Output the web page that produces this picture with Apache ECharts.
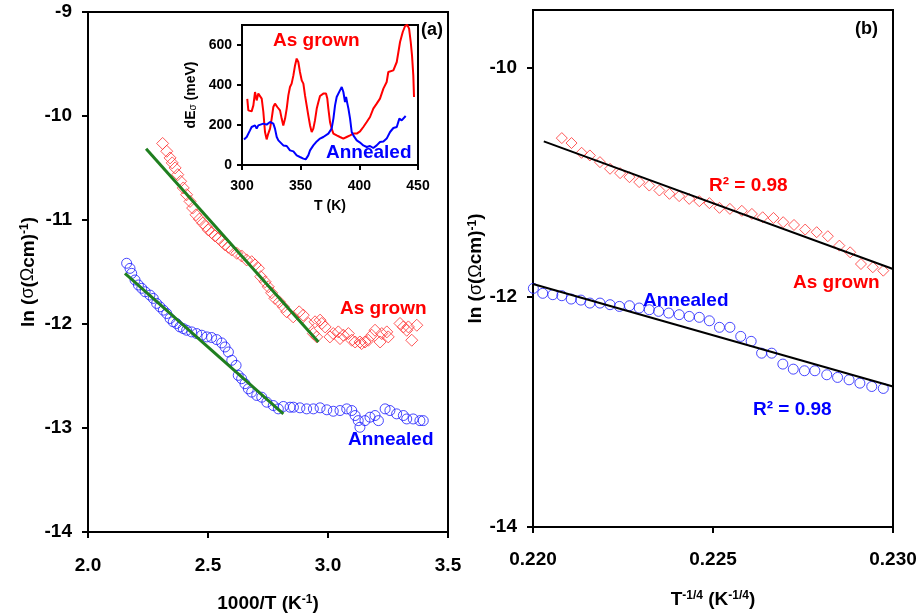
<!DOCTYPE html>
<html>
<head>
<meta charset="utf-8">
<script src="https://cdn.jsdelivr.net/npm/echarts@6/dist/echarts.min.js"></script>
<style>
html, body { margin: 0; padding: 0; background: #fff; }
#chart { width: 919px; height: 615px; }
</style>
</head>
<body>
<div id="chart"></div>
<script>
// panel (a): ln(sigma) vs 1000/T
const grownA = [
    [2.311, -10.264], [2.328, -10.339], [2.342, -10.403], [2.351, -10.451], [2.363, -10.499],
    [2.374, -10.564], [2.386, -10.628], [2.397, -10.692], [2.411, -10.757], [2.425, -10.821],
    [2.436, -10.885], [2.450, -10.950], [2.464, -10.991], [2.478, -11.030], [2.492, -11.062],
    [2.501, -11.095], [2.515, -11.120], [2.529, -11.153], [2.543, -11.175], [2.557, -11.207],
    [2.571, -11.239], [2.585, -11.262], [2.599, -11.288], [2.620, -11.320], [2.640, -11.346],
    [2.661, -11.384], [2.682, -11.401], [2.696, -11.432], [2.710, -11.464], [2.720, -11.545],
    [2.738, -11.594], [2.751, -11.642], [2.765, -11.700], [2.779, -11.754], [2.797, -11.787],
    [2.814, -11.835], [2.828, -11.883], [2.855, -11.931], [2.880, -11.883], [2.897, -11.915],
    [2.918, -11.995], [2.939, -12.092], [2.953, -12.124],
    [2.946, -11.979], [2.967, -11.963], [2.974, -11.995], [2.988, -12.028], [3.008, -12.124],
    [3.022, -12.092], [3.043, -12.076], [3.050, -12.140], [3.064, -12.108], [3.085, -12.092],
    [3.099, -12.156], [3.113, -12.173], [3.133, -12.173], [3.140, -12.188], [3.154, -12.173],
    [3.168, -12.156], [3.182, -12.108], [3.196, -12.060], [3.217, -12.173], [3.224, -12.092],
    [3.245, -12.076], [3.251, -12.124], [3.300, -11.995], [3.314, -12.028], [3.328, -12.060],
    [3.335, -12.028], [3.349, -12.156], [3.370, -12.012]
]
const annealA = [
    [2.161, -11.416], [2.175, -11.465], [2.182, -11.513], [2.196, -11.577], [2.210, -11.625],
    [2.224, -11.657], [2.238, -11.690], [2.258, -11.722], [2.272, -11.754], [2.286, -11.802],
    [2.300, -11.835], [2.314, -11.867], [2.328, -11.899], [2.342, -11.947], [2.355, -11.979],
    [2.369, -11.995], [2.383, -12.028], [2.397, -12.044], [2.411, -12.060], [2.432, -12.076],
    [2.453, -12.092], [2.474, -12.108], [2.495, -12.124], [2.515, -12.130], [2.536, -12.150],
    [2.557, -12.182], [2.571, -12.221], [2.585, -12.269], [2.599, -12.349], [2.617, -12.398],
    [2.626, -12.494], [2.640, -12.526], [2.654, -12.574], [2.668, -12.623], [2.682, -12.655],
    [2.703, -12.687], [2.724, -12.704], [2.745, -12.752], [2.772, -12.784], [2.793, -12.816],
    [2.814, -12.793], [2.842, -12.800],
    [2.856, -12.800], [2.883, -12.806], [2.911, -12.816], [2.939, -12.816], [2.967, -12.806],
    [2.995, -12.825], [3.022, -12.839], [3.050, -12.832], [3.078, -12.816], [3.099, -12.832],
    [3.113, -12.880], [3.126, -12.929], [3.133, -12.993], [3.154, -12.929], [3.175, -12.896],
    [3.196, -12.880], [3.210, -12.929], [3.238, -12.816], [3.258, -12.832], [3.286, -12.864],
    [3.314, -12.880], [3.328, -12.913], [3.355, -12.913], [3.383, -12.929], [3.397, -12.929]
]
const fitGrownA = [[2.242, -10.316], [2.960, -12.173]]
const fitAnnealA = [[2.154, -11.513], [2.814, -12.864]]

// inset: dE_sigma (meV) vs T (K)
const insetGrown = [
    [304.5, 331], [305.4, 273], [308.2, 268], [309.7, 298], [311.1, 365], [312.5, 323],
    [313.9, 357], [315.3, 348], [316.8, 332], [318.2, 265], [319.6, 165], [321.0, 128],
    [322.4, 157], [323.9, 182], [325.3, 232], [326.7, 290], [328.1, 307], [330.1, 290],
    [332.4, 273], [333.8, 232], [335.2, 198], [336.7, 232], [338.1, 282], [339.5, 348],
    [340.9, 390], [342.3, 407], [343.8, 448], [345.2, 498], [346.6, 532], [348.0, 515],
    [349.4, 465], [350.9, 423], [352.3, 407], [353.7, 348], [355.1, 298], [356.5, 248],
    [358.0, 198], [359.4, 165], [360.8, 182], [362.2, 223], [363.7, 282], [365.1, 315],
    [366.5, 345], [369.3, 357], [371.6, 357], [372.7, 332], [373.6, 282], [375.0, 215],
    [376.4, 182], [377.9, 157], [380.7, 148], [383.5, 140], [386.4, 132], [389.2, 140],
    [392.1, 148], [394.9, 157], [397.8, 157], [400.6, 168], [403.4, 190], [406.3, 215],
    [409.1, 240], [411.9, 282], [414.8, 307], [417.6, 332], [420.5, 382], [423.3, 415],
    [424.7, 465], [429.0, 473], [431.9, 515], [433.3, 565], [434.7, 615], [437.0, 665],
    [439.0, 695], [440.9, 700], [442.4, 682], [443.8, 615], [444.9, 548], [446.0, 448],
    [446.6, 340]
]
const insetAnneal = [
    [301.7, 128], [304.0, 140], [306.8, 173], [308.2, 190], [309.7, 185], [311.1, 198],
    [312.5, 182], [313.9, 198], [315.3, 190], [318.2, 207], [321.0, 202], [323.9, 215],
    [326.7, 207], [328.1, 182], [329.6, 140], [331.0, 123], [332.4, 118], [335.2, 98],
    [338.1, 95], [340.9, 73], [343.8, 68], [346.6, 48], [349.4, 40], [352.3, 32],
    [354.3, 28], [356.5, 48], [358.0, 73], [360.8, 98], [363.7, 118], [366.5, 132],
    [369.3, 140], [370.8, 135], [373.6, 157], [375.0, 148], [376.4, 182], [377.9, 232],
    [379.3, 298], [380.7, 340], [383.5, 373], [385.0, 390], [386.4, 365], [387.8, 315],
    [388.7, 340], [389.8, 307], [390.7, 282], [392.1, 232], [393.5, 165], [394.9, 148],
    [397.8, 123], [400.6, 112], [403.4, 98], [406.3, 90], [409.1, 95], [411.9, 85],
    [413.4, 82], [414.8, 98], [417.6, 115], [420.5, 118], [423.3, 132], [426.2, 165],
    [429.0, 185], [431.9, 190], [434.1, 232], [436.1, 223], [437.5, 232], [439.5, 245]
]

// panel (b): ln(sigma) vs T^-1/4
const grownB = [
    [0.22080, -10.615], [0.22107, -10.658], [0.22135, -10.743], [0.22158, -10.766],
    [0.22186, -10.824], [0.22214, -10.882], [0.22242, -10.920], [0.22268, -10.955],
    [0.22295, -10.998], [0.22323, -11.028], [0.22351, -11.071], [0.22379, -11.100],
    [0.22406, -11.120], [0.22434, -11.144], [0.22462, -11.164], [0.22490, -11.181],
    [0.22518, -11.222], [0.22547, -11.231], [0.22580, -11.248], [0.22608, -11.275],
    [0.22638, -11.304], [0.22668, -11.310], [0.22695, -11.347], [0.22725, -11.371],
    [0.22756, -11.411], [0.22788, -11.434], [0.22819, -11.469], [0.22851, -11.551],
    [0.22881, -11.609], [0.22911, -11.711], [0.22944, -11.739], [0.22973, -11.769]
]
const annealB = [
    [0.22001, -11.923], [0.22027, -11.966], [0.22055, -11.978], [0.22080, -11.987],
    [0.22106, -12.016], [0.22133, -12.025], [0.22158, -12.051], [0.22186, -12.051],
    [0.22214, -12.065], [0.22240, -12.080], [0.22268, -12.074], [0.22295, -12.094],
    [0.22323, -12.109], [0.22349, -12.123], [0.22377, -12.138], [0.22406, -12.152],
    [0.22434, -12.167], [0.22462, -12.175], [0.22490, -12.205], [0.22518, -12.262],
    [0.22547, -12.262], [0.22577, -12.341], [0.22606, -12.384], [0.22635, -12.487],
    [0.22663, -12.487], [0.22694, -12.582], [0.22723, -12.626], [0.22754, -12.640],
    [0.22783, -12.640], [0.22816, -12.675], [0.22846, -12.698], [0.22878, -12.719],
    [0.22908, -12.748], [0.22941, -12.777], [0.22973, -12.794]
]
const fitGrownB = [[0.2203, -10.644], [0.2300, -11.754]]
const fitAnnealB = [[0.2200, -11.885], [0.2300, -12.777]]

const RED = '#ff0000'
const BLUE = '#0000ff'
const GREEN = '#1f7f1f'
const FONT = "'Liberation Sans', Arial, sans-serif"

const myChart = echarts.init(document.getElementById('chart'))

const rich = {
    b: { fontFamily: FONT, fontWeight: 'bold', fontSize: 19, color: '#000' },
    g: { fontFamily: FONT, fontWeight: 'normal', fontSize: 18, color: '#000' },
    sup: { fontFamily: FONT, fontWeight: 'bold', fontSize: 12, color: '#000', verticalAlign: 'top', lineHeight: 12 },
    sb: { fontFamily: FONT, fontWeight: 'bold', fontSize: 14, color: '#000' },
    sub: { fontFamily: FONT, fontWeight: 'normal', fontSize: 10, color: '#000', verticalAlign: 'bottom', lineHeight: 10 }
}

const axisCommon = (labelSize, tickLen) => ({
    type: 'value',
    splitLine: { show: false },
    axisLine: { show: true, onZero: false, lineStyle: { color: '#000', width: 2 } },
    axisTick: { show: true, inside: false, length: tickLen, lineStyle: { color: '#000', width: 2 } },
    axisLabel: { color: '#000', fontFamily: FONT, fontWeight: 'bold', fontSize: labelSize },
    nameLocation: 'middle',
    nameTextStyle: { rich: rich }
})

const scatter = (x, y, data, symbol, size, color) => ({
    type: 'scatter',
    xAxisIndex: x,
    yAxisIndex: y,
    data: data,
    symbol: symbol,
    symbolSize: size,
    silent: true,
    itemStyle: { color: 'rgba(0,0,0,0)', borderColor: color, borderWidth: 1 },
    z: 2
})

const line = (x, y, data, color, width, z) => ({
    type: 'line',
    xAxisIndex: x,
    yAxisIndex: y,
    data: data,
    showSymbol: false,
    symbol: 'none',
    silent: true,
    lineStyle: { color: color, width: width },
    z: z
})

const txt = (left, top, text, color, size) => ({
    type: 'text',
    left: left,
    top: top,
    z: 100,
    style: { text: text, fill: color, font: 'bold ' + size + 'px ' + FONT }
})

myChart.setOption({
    animation: false,
    backgroundColor: '#fff',
    grid: [
        { left: 88, top: 12, width: 360, height: 520, show: true, borderColor: '#000', borderWidth: 2, backgroundColor: 'transparent', outerBoundsMode: 'none' },
        { left: 242, top: 25, width: 176, height: 140, show: true, borderColor: '#000', borderWidth: 2, backgroundColor: '#fff', outerBoundsMode: 'none', z: 5 },
        { left: 533, top: 10, width: 360, height: 517, show: true, borderColor: '#000', borderWidth: 2, backgroundColor: 'transparent', outerBoundsMode: 'none' }
    ],
    xAxis: [
        Object.assign(axisCommon(19, 6), {
            gridIndex: 0, min: 2, max: 3.5, interval: 0.5,
            name: '{b|1000/T (K}{sup|-1}{b|)}', nameGap: 62,
            axisLabel: Object.assign(axisCommon(19, 6).axisLabel, { margin: 24, formatter: v => v.toFixed(1) })
        }),
        Object.assign(axisCommon(14, 5), {
            gridIndex: 1, min: 300, max: 450, interval: 50, z: 6,
            name: '{sb|T (K)}', nameGap: 34,
            axisLabel: Object.assign(axisCommon(14, 5).axisLabel, { margin: 14 })
        }),
        Object.assign(axisCommon(19, 6), {
            gridIndex: 2, min: 0.220, max: 0.230, interval: 0.005,
            name: '{b|T}{sup|-1/4}{b| (K}{sup|-1/4}{b|)}', nameGap: 63,
            axisLabel: Object.assign(axisCommon(19, 6).axisLabel, { margin: 23, formatter: v => v.toFixed(3) })
        })
    ],
    yAxis: [
        Object.assign(axisCommon(19, 6), {
            gridIndex: 0, min: -14, max: -9, interval: 1,
            name: '{b|ln (}{g|σ}{b|(}{g|Ω}{b|cm)}{sup|-1}{b|)}', nameGap: 50,
            axisLabel: Object.assign(axisCommon(19, 6).axisLabel, { margin: 16 })
        }),
        Object.assign(axisCommon(14, 5), {
            gridIndex: 1, min: 0, max: 700, interval: 200, z: 6,
            name: '{sb|dE}{sub|σ}{sb| (meV)}', nameGap: 44,
            axisTick: Object.assign(axisCommon(14, 5).axisTick, { customValues: [0, 200, 400, 600] }),
            axisLabel: Object.assign(axisCommon(14, 5).axisLabel, { margin: 10, customValues: [0, 200, 400, 600] })
        }),
        Object.assign(axisCommon(19, 6), {
            gridIndex: 2, min: -14, max: -9.5, interval: 2,
            name: '{b|ln (}{g|σ}{b|(}{g|Ω}{b|cm)}{sup|-1}{b|)}', nameGap: 46,
            axisTick: Object.assign(axisCommon(19, 6).axisTick, { customValues: [-14, -12, -10] }),
            axisLabel: Object.assign(axisCommon(19, 6).axisLabel, { margin: 16, customValues: [-14, -12, -10] })
        })
    ],
    series: [
        scatter(0, 0, grownA, 'diamond', 12, '#ff3030'),
        scatter(0, 0, annealA, 'circle', 10, '#1a1aff'),
        line(0, 0, fitGrownA, GREEN, 3, 4),
        line(0, 0, fitAnnealA, GREEN, 3, 4),
        line(1, 1, insetGrown, RED, 2, 7),
        line(1, 1, insetAnneal, BLUE, 2, 7),
        scatter(2, 2, grownB, 'diamond', 11, '#ff3030'),
        scatter(2, 2, annealB, 'circle', 10, '#1a1aff'),
        line(2, 2, fitGrownB, '#000', 2, 4),
        line(2, 2, fitAnnealB, '#000', 2, 4)
    ],
    graphic: [
        txt(421, 21, '(a)', '#000', 18),
        txt(855, 20, '(b)', '#000', 18),
        txt(273, 31, 'As grown', RED, 19),
        txt(326, 143, 'Annealed', BLUE, 19),
        txt(340, 299, 'As grown', RED, 19),
        txt(348, 430, 'Annealed', BLUE, 19),
        txt(709, 176, 'R² = 0.98', RED, 19),
        txt(793, 273, 'As grown', RED, 19),
        txt(643, 291, 'Annealed', BLUE, 19),
        txt(753, 400, 'R² = 0.98', BLUE, 19)
    ]
})
</script>
</body>
</html>
